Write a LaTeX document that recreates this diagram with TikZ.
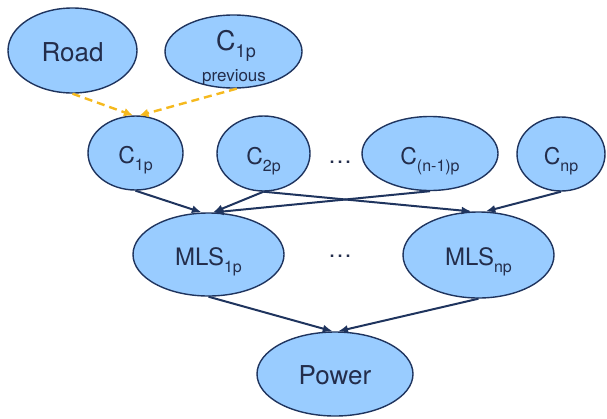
\documentclass[tikz,border=0pt]{standalone}
\usepackage{fontspec}
\setmainfont{TeX Gyre Heros}
\usepackage{xcolor}
\usetikzlibrary{
  shapes.geometric,
  arrows.meta
}
\definecolor{SkyFill}{RGB}{153, 204, 255}
\definecolor{NavyLine}{RGB}{31, 52, 94}
\definecolor{NavyText}{RGB}{35, 45, 75}
\definecolor{AmberDash}{RGB}{245, 185, 30}
\newcommand{\lowsub}[2][16]{\raisebox{-7pt}{\fontsize{#1}{#1}\selectfont #2}}
\tikzset{
    bubble/.style={ellipse, draw=NavyLine, line width=1.4pt, fill=SkyFill, inner sep=0pt,
        text=NavyText, text height=25pt, text depth=4pt},
    link/.style={draw=NavyLine, line width=2pt, -{Latex[length=10pt, width=8pt]}},
    prior/.style={draw=AmberDash, line width=2.4pt, dash pattern=on 8pt off 5pt,
        -{Latex[length=9pt, width=9pt]}}
}

\begin{document}
\begin{tikzpicture}[x=1pt, y=-1pt]
                \useasboundingbox (0,0) rectangle (607,418);
                \node[bubble, minimum width=129pt, minimum height=85pt, font=\fontsize{26}{28}\selectfont] (road) at (72.5,50.5) {Road};
                \node[bubble, minimum width=137pt, minimum height=73pt] (prev) at (233.5,51.5) {};
                \node[anchor=base, text=NavyText, inner sep=0pt, font=\fontsize{27}{28}\selectfont] (prevname) at (236,50) {C\lowsub[18]{1p}};
                \node[anchor=base, text=NavyText, inner sep=0pt, font=\fontsize{17}{18}\selectfont] (prevnote) at (234,81) {previous};
                \node[bubble, minimum width=95pt, minimum height=74pt, font=\fontsize{23}{26}\selectfont] (c1p) at (135.5,153) {C\lowsub{1p}};
                \node[bubble, minimum width=93pt, minimum height=75pt, font=\fontsize{23}{26}\selectfont] (c2p) at (263.5,153.5) {C\lowsub{2p}};
                \node[anchor=base, text=NavyText, font=\fontsize{24}{26}\selectfont] (gapc) at (340,163) {\dots};
                \node[bubble, minimum width=136pt, minimum height=74pt, font=\fontsize{23}{26}\selectfont] (cn1p) at (430,153.5) {C\lowsub{(n-1)p}};
                \node[bubble, minimum width=88pt, minimum height=74pt, font=\fontsize{23}{26}\selectfont] (cnp) at (561,154) {C\lowsub{np}};
                \node[bubble, minimum width=151pt, minimum height=83pt, font=\fontsize{24}{26}\selectfont] (mls1p) at (208.5,254.5) {MLS\lowsub{1p}};
                \node[anchor=base, text=NavyText, font=\fontsize{24}{26}\selectfont] (gapm) at (340,257) {\dots};
                \node[bubble, minimum width=151pt, minimum height=86pt, font=\fontsize{24}{26}\selectfont] (mlsnp) at (478.5,255) {MLS\lowsub{np}};
                \node[bubble, minimum width=156pt, minimum height=84pt, font=\fontsize{26}{28}\selectfont] (power) at (335,374) {Power};
                \draw[prior] (road.south) -- (c1p.94);
                \draw[prior] (prev.275) -- (c1p.84);
                \draw[link] (c1p.south) -- (mls1p.99);
                \draw[link] (c2p.south) -- (mls1p.84);
                \draw[link] (cn1p.south) -- (mls1p.83);
                \draw[link] (c2p.south) -- (mlsnp.99);
                \draw[link] (cnp.south) -- (mlsnp.81);
                \draw[link] (mls1p.south) -- (power.93);
                \draw[link] (mlsnp.south) -- (power.86);
            \end{tikzpicture}
\end{document}
